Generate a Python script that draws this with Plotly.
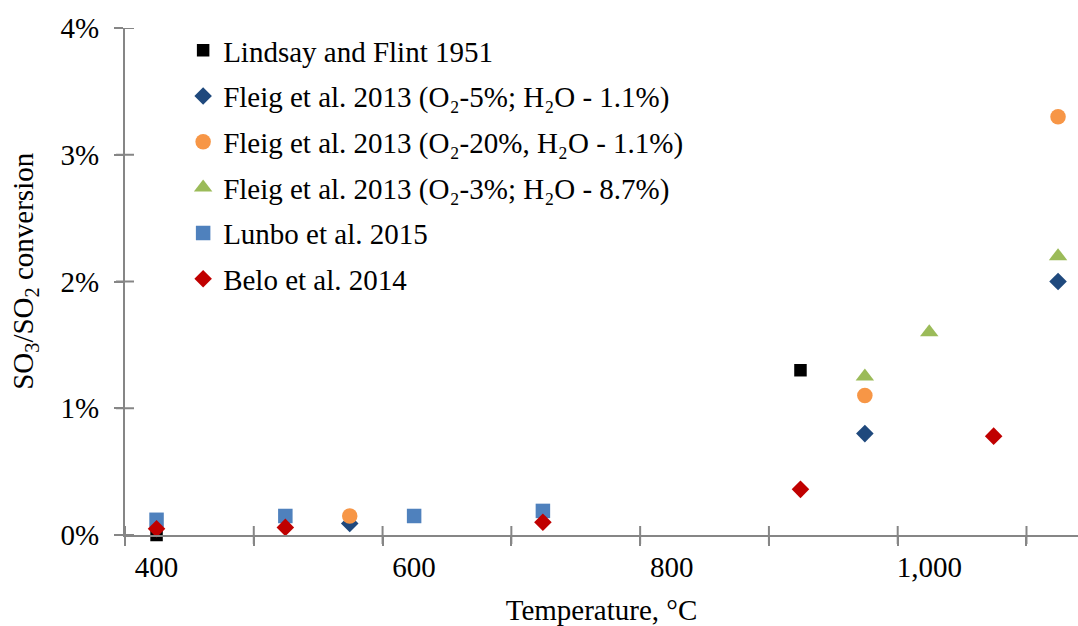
import plotly.graph_objects as go

# ---- data (temperature in °C, conversion as fraction) ----
lindsay_x = [400, 900]
lindsay_y = [0.0, 0.013]

fleig5_x = [550, 950, 1100]
fleig5_y = [0.0009, 0.008, 0.020]

fleig20_x = [550, 950, 1100]
fleig20_y = [0.0015, 0.011, 0.033]

fleig3_x = [950, 1000, 1100]
fleig3_y = [0.0125, 0.016, 0.022]

lunbo_x = [400, 500, 600, 700]
lunbo_y = [0.0012, 0.0015, 0.0015, 0.0019]

belo_x = [400, 500, 700, 900, 1050]
belo_y = [0.0005, 0.0006, 0.0010, 0.0036, 0.0078]

x_ticks = [400, 600, 800, 1000]
x_tick_text = ["400", "600", "800", "1,000"]
y_ticks = [0, 0.01, 0.02, 0.03, 0.04]

FONT = "Liberation Serif"
GRAY = "#868686"
FS = 29
TFONT = dict(family=FONT, size=FS, color="black")

series = [
    ("Lindsay and Flint 1951", lindsay_x, lindsay_y, "square", "#000000", 12.5),
    ("Fleig et al. 2013 (O₂-5%; H₂O - 1.1%)", fleig5_x, fleig5_y, "diamond", "#1F497D", 13.5),
    ("Fleig et al. 2013 (O₂-20%, H₂O - 1.1%)", fleig20_x, fleig20_y, "circle", "#F79646", 15.5),
    ("Fleig et al. 2013 (O₂-3%; H₂O - 8.7%)", fleig3_x, fleig3_y, "triangle-up", "#9BBB59", 16),
    ("Lunbo et al. 2015", lunbo_x, lunbo_y, "square", "#4F81BD", 14.5),
    ("Belo et al. 2014", belo_x, belo_y, "diamond", "#C00000", 13.5),
]

fig = go.Figure()
for i, (name, xs, ys, sym, col, sz) in enumerate(series):
    fig.add_trace(go.Scatter(
        x=xs, y=ys, mode="markers", name=name, legendgroup=f"g{i}",
        marker=dict(symbol=sym, color=col, size=sz, line=dict(width=0)),
        cliponaxis=False,
    ))

X0, X1 = 375.5, 1115.5
Y0, Y1 = 0.0, 0.04
x_minor = [X0 + 100 * k for k in range(8)]

# crossing tick marks (Excel "cross" style): drawn with pixel-sized shapes
shapes = []
for v in x_minor:
    shapes.append(dict(type="line", xref="x", yref="paper",
                       ysizemode="pixel", yanchor=0, y0=-9, y1=9,
                       x0=v, x1=v, layer="below",
                       line=dict(color=GRAY, width=2)))
for v in y_ticks:
    shapes.append(dict(type="line", xref="paper", yref="y",
                       xsizemode="pixel", xanchor=0, x0=-9, x1=9,
                       y0=v, y1=v, layer="below",
                       line=dict(color=GRAY, width=2)))

fig.update_layout(
    width=1078, height=626,
    margin=dict(l=125, r=0, t=28, b=89),
    paper_bgcolor="white", plot_bgcolor="white",
    font=TFONT,
    showlegend=True,
    legend=dict(
        x=0.061, y=1.006, xanchor="left", yanchor="top",
        bgcolor="rgba(0,0,0,0)", borderwidth=0,
        font=TFONT,
        tracegroupgap=5, traceorder="grouped",
    ),
    xaxis=dict(
        range=[X0, X1], showgrid=False, zeroline=False,
        showline=True, linecolor=GRAY, linewidth=2,
        tickmode="array", tickvals=x_ticks, ticktext=x_tick_text,
        ticks="", ticklabelstandoff=5, tickfont=TFONT,
        minor=dict(tickmode="array", tickvals=x_minor, ticks="outside", ticklen=9,
                   tickcolor=GRAY, tickwidth=2, showgrid=False),
        title=dict(text="Temperature, °C", standoff=23, font=TFONT),
    ),
    yaxis=dict(
        range=[Y0, Y1], showgrid=False, zeroline=False,
        showline=True, linecolor=GRAY, linewidth=2,
        tickmode="array", tickvals=y_ticks, tickformat=".0%",
        ticks="outside", ticklen=9, tickcolor=GRAY, tickwidth=2,
        ticklabelstandoff=9, tickfont=TFONT,
    ),
    shapes=shapes,
    annotations=[dict(
        text="SO<sub>3</sub>/SO<sub>2</sub> conversion",
        xref="paper", yref="paper", x=-0.105, y=0.521,
        xanchor="center", yanchor="middle", textangle=-90,
        showarrow=False, font=TFONT,
    )],
)

fig.write_html("out.html")
